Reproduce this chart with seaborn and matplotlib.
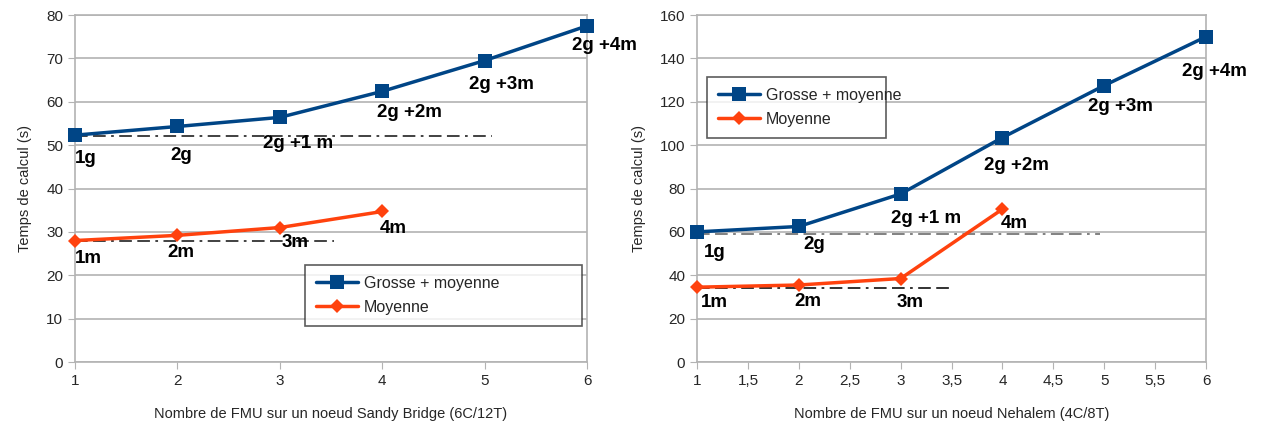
import numpy as np
import pandas as pd
import seaborn as sns
import matplotlib.pyplot as plt

# --- data ---
fmu = [1, 2, 3, 4, 5, 6]
fmu_moy = [1, 2, 3, 4]

sandy_grosse = [52.3, 54.3, 56.4, 62.4, 69.5, 77.5]
sandy_moyenne = [28.0, 29.2, 31.0, 34.7]
nehalem_grosse = [60.0, 62.5, 77.5, 103.5, 127.5, 150.0]
nehalem_moyenne = [34.5, 35.5, 38.5, 70.5]

labels_grosse = ["1g", "2g", "2g +1 m", "2g +2m", "2g +3m", "2g +4m"]
labels_moyenne = ["1m", "2m", "3m", "4m"]

# reference lines: (value, x start, x end, colour)
sandy_refs = [(52.0, 1.0, 5.07, "#333333"), (28.0, 1.0, 3.53, "#333333")]
nehalem_refs = [(59.0, 1.0, 4.96, "#777777"), (34.0, 1.0, 3.49, "#222222")]

# label offsets in points (dx, dy) per point
sandy_off_g = [(0, -17), (-5, -21), (-12, -19), (-4, -15), (-11, -17), (-11, -14)]
sandy_off_m = [(0, -13), (-7, -12), (1, -11), (-2, -12)]
nehalem_off_g = [(5, -15), (3, -13), (-7, -18), (-13, -20), (-12, -15), (-17, -25)]
nehalem_off_m = [(3, -11), (-3, -12), (-3, -17), (-1, -10)]

BLUE = "#004586"
ORANGE = "#ff420e"

sns.set_style("white")
plt.rcParams['font.family'] = ['Liberation Sans', 'DejaVu Sans']

fig = plt.figure(figsize=(12.69, 4.28), dpi=100)
ax1 = fig.add_axes([0.0591, 0.1542, 0.4035, 0.8107])
ax2 = fig.add_axes([0.5493, 0.1542, 0.4011, 0.8107])


def draw(ax, grosse, moyenne, refs, off_g, off_m, ymax, ystep, xticks, xlabel, leg_box):
    df_g = pd.DataFrame({"x": fmu, "y": grosse})
    df_m = pd.DataFrame({"x": fmu_moy, "y": moyenne})
    for y, x0, x1, c in refs:
        ax.hlines(y, x0, x1, colors=c, linewidth=1.3,
                  linestyles=(0, (7, 3, 7, 3, 1.5, 3)), zorder=2)
    sns.lineplot(data=df_g, x="x", y="y", ax=ax, color=BLUE, linewidth=2.5,
                 marker="s", markersize=10.5, markeredgewidth=0, clip_on=False,
                 label="Grosse + moyenne", zorder=3)
    sns.lineplot(data=df_m, x="x", y="y", ax=ax, color=ORANGE, linewidth=2.5,
                 marker="D", markersize=7, markeredgewidth=0, clip_on=False,
                 label="Moyenne", zorder=3)
    for xs, ys, labs, offs in [(fmu, grosse, labels_grosse, off_g),
                               (fmu_moy, moyenne, labels_moyenne, off_m)]:
        for x, y, t, (dx, dy) in zip(xs, ys, labs, offs):
            ax.annotate(t, (x, y), xytext=(dx, dy), textcoords="offset points",
                        ha="left", va="center", fontsize=13.5, fontweight="bold",
                        color="black", annotation_clip=False, zorder=4)
    ax.set_xlim(1, 6)
    ax.set_ylim(0, ymax)
    ax.set_xticks(xticks)
    ax.set_xticklabels([("%g" % v).replace(".", ",") for v in xticks])
    ax.set_yticks(np.arange(0, ymax + 1, ystep))
    ax.yaxis.grid(True, color="#b3b3b3", linewidth=1.2)
    ax.xaxis.grid(False)
    for s in ax.spines.values():
        s.set_color("#b3b3b3")
        s.set_linewidth(1.2)
    ax.tick_params(axis="both", which="both", length=5, color="#b3b3b3",
                   labelsize=11, direction="out", bottom=True, left=True)
    ax.set_xlabel(xlabel, fontsize=10.5, labelpad=14)
    ax.set_ylabel("Temps de calcul (s)", fontsize=10.5, labelpad=10)
    leg = ax.legend(loc="upper left", bbox_to_anchor=leg_box, mode="expand",
                    fontsize=11.5, frameon=True, fancybox=False, edgecolor="#333333",
                    handlelength=2.6, borderpad=0.7, labelspacing=0.55,
                    handletextpad=0.4, borderaxespad=0)
    leg.get_frame().set_linewidth(1.2)
    leg.set_zorder(5)


draw(ax1, sandy_grosse, sandy_moyenne, sandy_refs, sandy_off_g, sandy_off_m,
     80, 10, [1, 2, 3, 4, 5, 6],
     "Nombre de FMU sur un noeud Sandy Bridge (6C/12T)", (0.449, 0.28, 0.541, 0.0))
draw(ax2, nehalem_grosse, nehalem_moyenne, nehalem_refs, nehalem_off_g, nehalem_off_m,
     160, 20, [1, 1.5, 2, 2.5, 3, 3.5, 4, 4.5, 5, 5.5, 6],
     "Nombre de FMU sur un noeud Nehalem (4C/8T)", (0.0196, 0.822, 0.352, 0.0))

fig.savefig("out.png", dpi=100)
